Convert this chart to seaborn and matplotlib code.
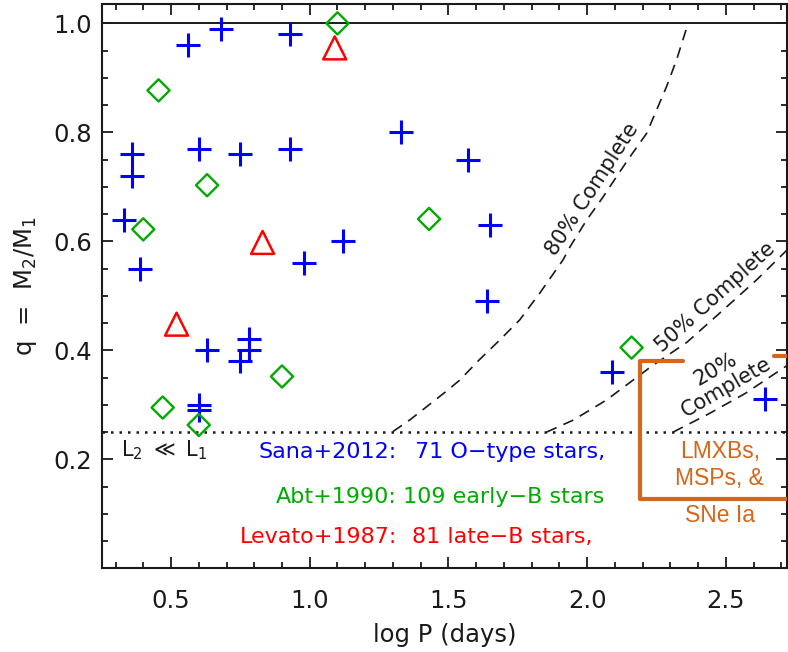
import matplotlib
matplotlib.use("Agg")
import matplotlib.pyplot as plt
from matplotlib.ticker import MultipleLocator, FixedLocator
import seaborn as sns

# Sana+2012: O-type binaries (log P in days, q = M2/M1)
sana_logp = [0.33, 0.36, 0.36, 0.39, 0.56, 0.68, 0.60, 0.75, 0.93, 0.93, 0.98, 1.12,
             1.33, 1.57, 1.65, 1.64, 0.63, 0.75, 0.78, 0.78, 0.60, 0.60, 2.09, 2.64]
sana_q = [0.64, 0.76, 0.72, 0.55, 0.96, 0.99, 0.77, 0.76, 0.98, 0.77, 0.56, 0.60,
          0.80, 0.75, 0.63, 0.49, 0.40, 0.38, 0.42, 0.40, 0.30, 0.29, 0.36, 0.31]

# Abt+1990: early-B binaries
abt_logp = [1.10, 0.455, 0.63, 0.40, 1.43, 0.90, 0.47, 0.60, 2.16]
abt_q = [1.00, 0.877, 0.703, 0.622, 0.641, 0.352, 0.295, 0.263, 0.405]

# Levato+1987: late-B binaries
lev_logp = [1.09, 0.83, 0.52]
lev_q = [0.955, 0.598, 0.448]

# completeness curves
c80_logp = [1.30, 1.36, 1.43, 1.49, 1.54, 1.61, 1.685, 1.757, 1.829, 1.913, 1.938, 1.998,
            2.058, 2.106, 2.154, 2.214, 2.250, 2.286, 2.322, 2.358, 2.365]
c80_q = [0.251, 0.272, 0.300, 0.324, 0.345, 0.382, 0.419, 0.456, 0.505, 0.566, 0.590, 0.639,
         0.682, 0.719, 0.755, 0.798, 0.841, 0.884, 0.933, 0.991, 1.0]
c50_logp = [1.854, 1.95, 2.07, 2.23, 2.36, 2.49, 2.61, 2.72]
c50_q = [0.25, 0.272, 0.309, 0.370, 0.415, 0.474, 0.529, 0.584]
c20_logp = [2.31, 2.44, 2.57, 2.72]
c20_q = [0.25, 0.284, 0.321, 0.372]

# LMXB / MSP / SN Ia bracket
br_x = [2.346, 2.192, 2.192, 2.72]
br_y = [0.380, 0.380, 0.127, 0.127]
br2_x = [2.675, 2.72]
br2_y = [0.390, 0.390]

blue = '#0000FF'
green = '#00AA00'
red = '#FF0000'
orange = '#D5661A'

sns.set_theme(style="ticks")
plt.rcParams['font.family'] = ['DejaVu Sans']
plt.rcParams['mathtext.default'] = 'regular'
plt.rcParams['text.color'] = 'k'
plt.rcParams['axes.labelcolor'] = 'k'

fig = plt.figure(figsize=(7.88, 6.52), dpi=100)
ax = fig.add_axes([0.129, 0.1284, 0.8697, 0.865])

# reference lines
ax.axhline(1.0, color='k', lw=1.4, zorder=2)
ax.axhline(0.25, color='k', lw=1.8, linestyle=(0, (1, 2.4)), zorder=2)

dash = (0, (6.5, 4.5))
for cx, cy in [(c80_logp, c80_q), (c50_logp, c50_q), (c20_logp, c20_q)]:
    sns.lineplot(x=cx, y=cy, ax=ax, color='k', lw=1.2, linestyle=dash,
                 sort=False, estimator=None, zorder=3)

sns.lineplot(x=br_x, y=br_y, ax=ax, color=orange, lw=3.0, sort=False,
             estimator=None, zorder=4)
sns.lineplot(x=br2_x, y=br2_y, ax=ax, color=orange, lw=3.0, sort=False,
             estimator=None, zorder=4)

# data points
sns.scatterplot(x=sana_logp, y=sana_q, ax=ax, marker='+', s=17 ** 2, color=blue,
                linewidth=2.2, legend=False, zorder=6)
sns.scatterplot(x=abt_logp, y=abt_q, ax=ax, marker='D', s=11.3 ** 2, color=green,
                facecolor='none', edgecolor=green, linewidth=1.7, legend=False, zorder=6)
sns.scatterplot(x=lev_logp, y=lev_q, ax=ax, marker='^', s=16.5 ** 2, color=red,
                facecolor='none', edgecolor=red, linewidth=1.8, legend=False, zorder=6)

# labels on the plot
fs = 15
ax.text(2.019, 0.696, '80% Complete', rotation=57, ha='center', va='center',
        rotation_mode='anchor', fontsize=fs)
ax.text(2.461, 0.498, '50% Complete', rotation=42, ha='center', va='center',
        rotation_mode='anchor', fontsize=fs)
ax.text(2.482, 0.349, '20%\nComplete', rotation=30, ha='center', va='center',
        rotation_mode='anchor', multialignment='center', linespacing=1.0, fontsize=fs)

ax.text(0.318, 0.217, r'L$_2$ $\ll$ L$_1$', ha='left', va='center', fontsize=fs)

lfs = 16
ax.text(1.314, 0.213, 'Sana+2012:', color=blue, ha='right', va='center', fontsize=lfs)
ax.text(1.38, 0.213, '71 O\u2212type stars,', color=blue, ha='left', va='center', fontsize=lfs)
ax.text(1.314, 0.131, 'Abt+1990:', color=green, ha='right', va='center', fontsize=lfs)
ax.text(1.335, 0.131, '109 early\u2212B stars', color=green, ha='left', va='center', fontsize=lfs)
ax.text(1.314, 0.058, 'Levato+1987:', color=red, ha='right', va='center', fontsize=lfs)
ax.text(1.37, 0.058, '81 late\u2212B stars,', color=red, ha='left', va='center', fontsize=lfs)

ofont = dict(family=['Liberation Sans', 'DejaVu Sans'], fontsize=16.5, color=orange,
             ha='center', va='center')
ax.text(2.478, 0.214, 'LMXBs,', **ofont)
ax.text(2.478, 0.165, 'MSPs, &', **ofont)
ax.text(2.478, 0.097, 'SNe Ia', **ofont)

# axes
ax.set_xlim(0.25, 2.72)
ax.set_ylim(0.0, 1.035)
ax.xaxis.set_major_locator(FixedLocator([0.5, 1.0, 1.5, 2.0, 2.5]))
ax.xaxis.set_minor_locator(MultipleLocator(0.1))
ax.yaxis.set_major_locator(FixedLocator([0.2, 0.4, 0.6, 0.8, 1.0]))
ax.yaxis.set_minor_locator(MultipleLocator(0.05))
ax.xaxis.set_major_formatter(plt.FuncFormatter(lambda v, p: f'{v:.1f}'))
ax.yaxis.set_major_formatter(plt.FuncFormatter(lambda v, p: f'{v:.1f}'))

ax.tick_params(which='both', direction='in', top=True, right=True, width=1.3,
               color='k', labelcolor='k')
ax.tick_params(which='major', length=8)
ax.tick_params(which='minor', length=4.5)
ax.tick_params(axis='x', pad=15, labelsize=17.5)
ax.tick_params(axis='y', pad=7, labelsize=17.5)
for sp in ax.spines.values():
    sp.set_linewidth(1.5)
    sp.set_color('k')

ax.set_xlabel('log P (days)', fontsize=17.5, labelpad=7)
ax.set_ylabel(r'q  =  M$_2$/M$_1$', fontsize=17.5, labelpad=10)

fig.savefig('out.png', dpi=100)
